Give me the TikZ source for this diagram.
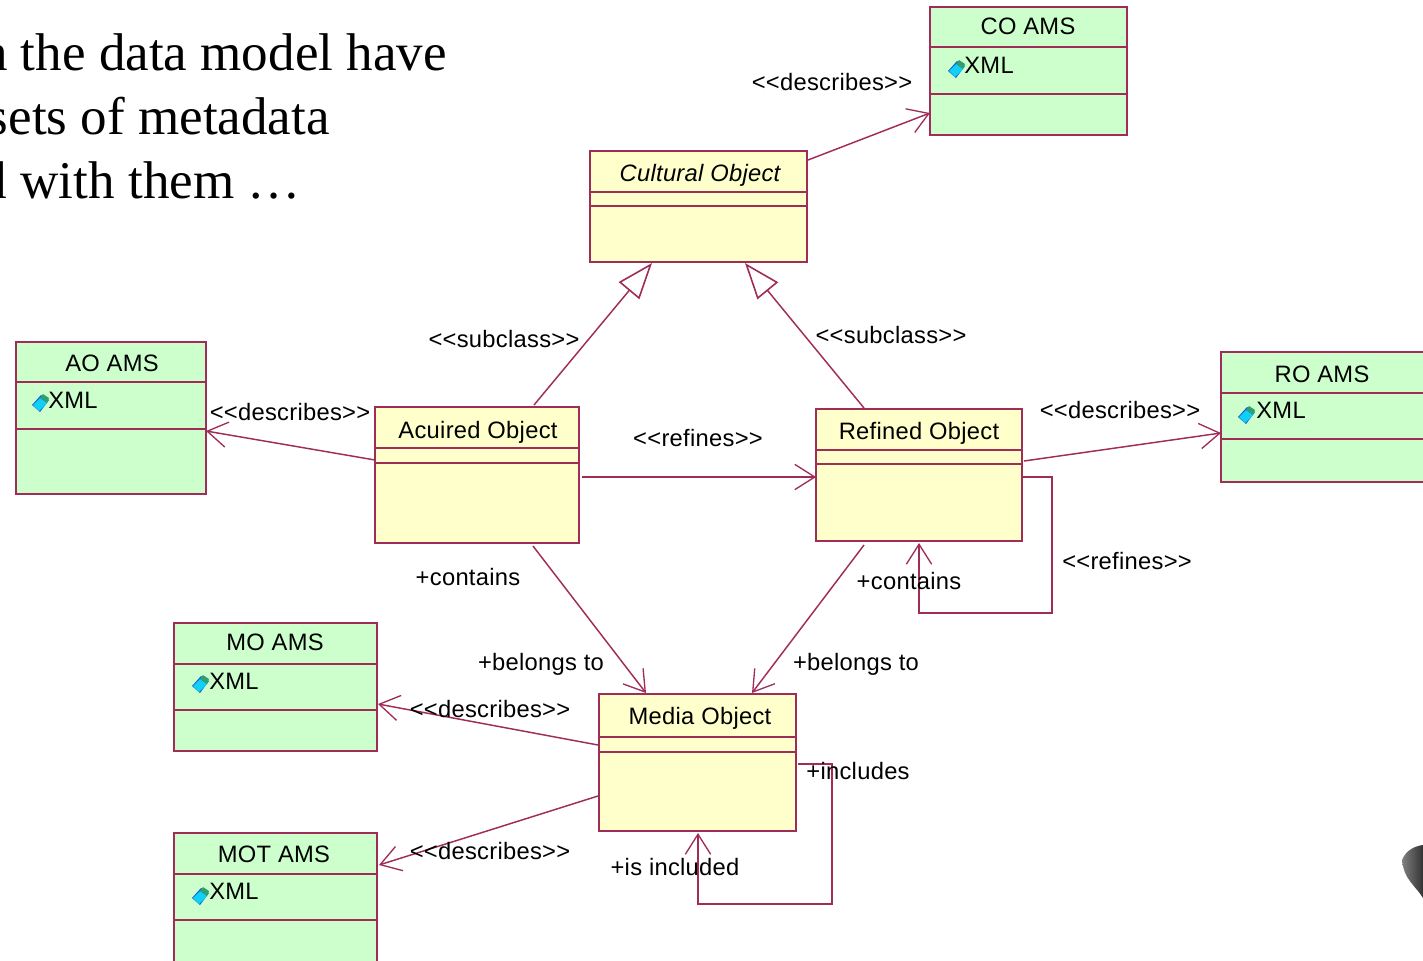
\documentclass[tikz,border=0pt]{standalone}
\usepackage{fontspec}
\setmainfont{Liberation Sans}[LetterSpace=1.2]
\newfontfamily\serifface{Liberation Serif}
\usetikzlibrary{arrows.meta,calc}
\definecolor{umlline}{HTML}{A02C58}
\definecolor{umlyellow}{HTML}{FFFFCC}
\definecolor{umlgreen}{HTML}{CCFFCC}
\definecolor{iconcyan}{HTML}{10D0F8}
\definecolor{iconblue}{HTML}{1060D0}
\definecolor{icongreen}{HTML}{30A070}
\tikzset{
  x=0.75pt,y=-0.75pt,
  umlbox/.style={draw=umlline,line width=1.5pt,inner sep=0pt,outer sep=0pt,anchor=north west},
  sep/.style={draw=umlline,line width=1.4pt},
  link/.style={draw=umlline,line width=1.1pt,-{Straight Barb[length=15pt,width=19pt,line width=1pt]}},
  inherit/.style={draw=umlline,line width=1.1pt,-{Triangle[open,fill=white,length=27pt,width=20pt,line width=1.2pt]}},
  lab/.style={font=\fontsize{17.8}{20}\selectfont,text=black,inner sep=0pt},
  head/.style={lab,anchor=base},
  slide/.style={font=\serifface\fontsize{39.8}{44}\selectfont,text=black,anchor=base east,inner sep=0pt},
}
% name, x0, y0, x1, y1, line 1, line 2, fill
\newcommand{\umlclass}[8]{%
  \node[umlbox,fill=#8,minimum width={(#4-#2)*0.75pt},minimum height={(#5-#3)*0.75pt}] (#1) at (#2,#3) {};
  \draw[sep] (#2,#6) -- (#4,#6);
  \draw[sep] (#2,#7) -- (#4,#7);
}
% name, icon centre x, y, text centre x, y
\newcommand{\xmlattr}[5]{%
  \begin{scope}[shift={(#2,#3)}]
    \fill[iconblue] (-9,2) -- (0,-8) -- (8,-3) -- (-1,9) -- cycle;
    \fill[iconcyan] (-8,2) -- (-1,-5) -- (6,0) -- (-2,8) -- cycle;
    \fill[icongreen] (-1,-5) -- (2,-9) -- (8,-5) -- (6,0) -- cycle;
  \end{scope}
  \node[lab] (#1) at (#4,#5) {XML};
}
\begin{document}
\begin{tikzpicture}
\useasboundingbox (0,0) rectangle (1423,960);
\clip (0,0) rectangle (1423,960);
\umlclass{co}{930}{7}{1127}{135}{47}{94}{umlgreen}
\umlclass{cult}{590}{151}{807}{262}{192}{206}{umlyellow}
\umlclass{ao}{16}{342}{206}{494}{382}{429}{umlgreen}
\umlclass{acq}{375}{407}{579}{543}{448}{463}{umlyellow}
\umlclass{ref}{816}{409}{1022}{541}{450}{464}{umlyellow}
\umlclass{ro}{1221}{352}{1440}{482}{393}{439}{umlgreen}
\umlclass{mo}{174}{623}{377}{751}{664}{710}{umlgreen}
\umlclass{mot}{174}{833}{377}{980}{874}{920}{umlgreen}
\umlclass{med}{599}{694}{796}{831}{737}{752}{umlyellow}
\node[head] (cotitle) at (1028,34) {CO AMS};
\node[head] (culttitle) at (700,181) {\itshape Cultural Object};
\node[head] (aotitle) at (112,371) {AO AMS};
\node[head] (acqtitle) at (478,438) {Acuired Object};
\node[head] (reftitle) at (919,439) {Refined Object};
\node[head] (rotitle) at (1322,382) {RO AMS};
\node[head] (motitle) at (275,650) {MO AMS};
\node[head] (mottitle) at (274,862) {MOT AMS};
\node[head] (medtitle) at (700,724) {Media Object};
\xmlattr{xco}{957}{69}{989}{65}
\xmlattr{xao}{41}{403}{73}{400}
\xmlattr{xro}{1247}{415}{1281}{410}
\xmlattr{xmo}{201}{684}{234}{681}
\xmlattr{xmot}{201}{896}{234}{891}

% connectors
\draw[link] ([shift={(1,9)}]cult.north east) -- ([shift={(0,106)}]co.north west);
\draw[inherit] ([shift={(159,-2)}]acq.north west) -- ([shift={(62,1)}]cult.south west);
\draw[inherit] ([shift={(48,-1)}]ref.north west) -- ([shift={(155,1)}]cult.south west);
\draw[link] ([shift={(0,53)}]acq.north west) -- ([shift={(0,89)}]ao.north east);
\draw[link] ([shift={(3,70)}]acq.north east) -- ([shift={(0,68)}]ref.north west);
\draw[link] ([shift={(2,52)}]ref.north east) -- ([shift={(0,81)}]ro.north west);
\draw[link] ([shift={(0,68)}]ref.north east) -- ++(30,0) -- ++(0,136) -- ++(-133,0) -- ([shift={(103,2)}]ref.south west);
\draw[link] ([shift={(158,3)}]acq.south west) -- ([shift={(47,-1)}]med.north west);
\draw[link] ([shift={(48,4)}]ref.south west) -- ([shift={(153,-1)}]med.north west);
\draw[link] ([shift={(-1,51)}]med.north west) -- ([shift={(1,81)}]mo.north east);
\draw[link] ([shift={(-1,102)}]med.north west) -- ([shift={(2,32)}]mot.north east);
\draw[link] ([shift={(2,70)}]med.north east) -- ++(34,0) -- ++(0,140) -- ++(-134,0) -- ([shift={(99,2)}]med.south west);

% connector labels
\node[lab] (l1) at (832,82) {<{}<describes>{}>};
\node[lab] (l2) at (504,339) {<{}<subclass>{}>};
\node[lab] (l3) at (891,335) {<{}<subclass>{}>};
\node[lab] (l4) at (290,412) {<{}<describes>{}>};
\node[lab] (l5) at (698,438) {<{}<refines>{}>};
\node[lab] (l6) at (1120,410) {<{}<describes>{}>};
\node[lab] (l7) at (1127,561) {<{}<refines>{}>};
\node[lab] (l8) at (468,577) {+contains};
\node[lab] (l9) at (909,581) {+contains};
\node[lab] (l10) at (541,664) {+belongs to};
\node[lab] (l11) at (856,664) {+belongs to};
\node[lab] (l12) at (490,709) {<{}<describes>{}>};
\node[lab] (l13) at (490,851) {<{}<describes>{}>};
\node[lab] (l14) at (858,771) {+includes};
\node[lab] (l15) at (675,867) {+is included};

% slide text
\node[slide] (t1) at (447,70) {n the data model have};
\node[slide] (t2) at (330,134) {sets of metadata};
\node[slide] (t3) at (301,198) {d with them …};

% corner of a dark object
\shade[left color=black!50,right color=black!80] (1402,860) .. controls (1406,850) and (1415,846) .. (1423,845) -- (1423,898) .. controls (1415,885) and (1404,880) .. (1402,860) -- cycle;
\end{tikzpicture}
\end{document}
